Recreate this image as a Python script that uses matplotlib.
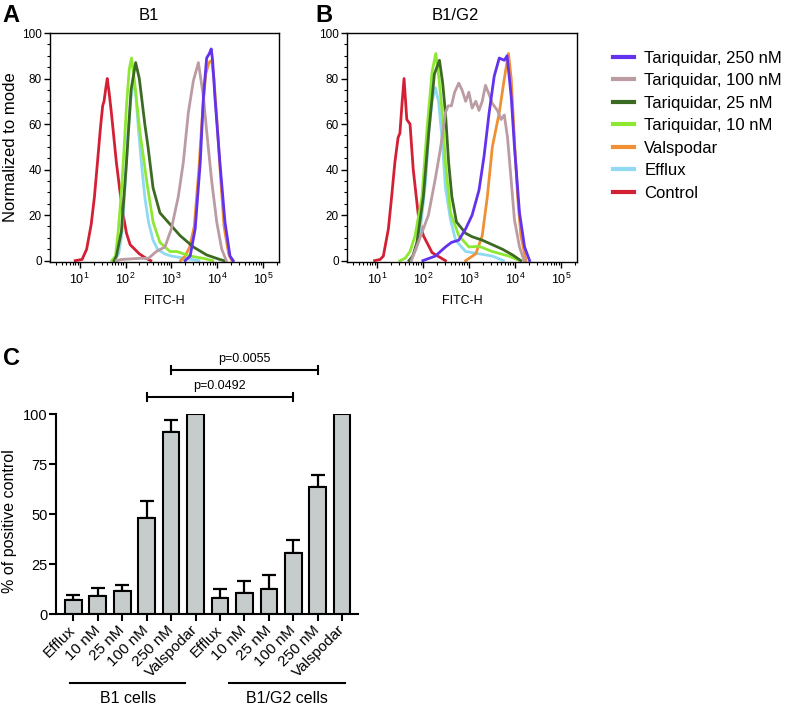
import numpy as np
import matplotlib
matplotlib.use("Agg")
import matplotlib.pyplot as plt
from matplotlib.lines import Line2D
from matplotlib.ticker import FixedLocator, MultipleLocator, LogLocator, NullFormatter

plt.rcParams["font.family"] = ["Liberation Sans", "DejaVu Sans"]
plt.rcParams["mathtext.fontset"] = "custom"
plt.rcParams["mathtext.rm"] = "Liberation Sans"
plt.rcParams["mathtext.it"] = "Liberation Sans:italic"

# ----------------------------------------------------------------------
# Flow histograms: log10(FITC-H) and % of mode
# ----------------------------------------------------------------------
# panel A : B1
A_CTRL_LX = [0.9, 1.05, 1.15, 1.25, 1.32, 1.39, 1.45, 1.5, 1.53, 1.57, 1.6, 1.64, 1.69, 1.75, 1.8, 1.88, 1.95, 2.02, 2.1, 2.2, 2.3, 2.45, 2.55]
A_CTRL_Y = [0, 0.5, 5, 16, 28, 44, 58, 68, 70, 76, 80, 74, 65, 53, 43, 30, 20, 12, 7, 5, 3, 1, 0]
A_EFF_LX = [1.75, 1.85, 1.92, 1.98, 2.05, 2.12, 2.18, 2.22, 2.28, 2.35, 2.42, 2.5, 2.6, 2.7, 2.85, 3.0, 3.3, 3.6]
A_EFF_Y = [0, 3, 12, 30, 55, 72, 79, 74, 58, 42, 28, 17, 9, 5, 3, 2, 1, 0]
A_T10_LX = [1.7, 1.78, 1.84, 1.9, 1.95, 2.02, 2.08, 2.13, 2.2, 2.31, 2.4, 2.46, 2.6, 2.75, 2.97, 3.12, 3.41, 3.7, 3.9]
A_T10_Y = [0, 2, 13, 28, 43, 68, 84, 89, 78, 57, 44, 35, 17, 8, 4, 4, 2, 1, 0]
A_T25_LX = [1.75, 1.8, 1.91, 2.02, 2.12, 2.22, 2.3, 2.42, 2.49, 2.6, 2.75, 2.97, 3.19, 3.48, 3.77, 4.06, 4.15]
A_T25_Y = [0, 2, 13, 43, 75, 87, 80, 60, 50, 32, 21, 16, 11, 6, 2.5, 0.5, 0]
A_T100_LX = [1.8, 1.9, 2.3, 2.5, 2.67, 2.86, 3.0, 3.15, 3.26, 3.37, 3.48, 3.59, 3.7, 3.77, 3.88, 3.99, 4.1, 4.2]
A_T100_Y = [0, 0.5, 1, 1, 4, 6, 14, 28, 43, 65, 79, 87, 72, 57, 35, 17, 5, 0]
A_T250_LX = [3.3, 3.41, 3.52, 3.63, 3.7, 3.77, 3.83, 3.87, 3.9, 3.95, 4.06, 4.17, 4.28, 4.35]
A_T250_Y = [0, 2, 14, 43, 72, 89, 91, 93, 88, 72, 43, 17, 2, 0]
A_VAL_LX = [3.2, 3.3, 3.4, 3.5, 3.6, 3.68, 3.75, 3.82, 3.88, 3.93, 4.0, 4.07, 4.15, 4.25, 4.32]
A_VAL_Y = [0, 2, 6, 15, 40, 65, 82, 87, 88, 80, 60, 38, 15, 3, 0]

# panel B : B1/G2
B_CTRL_LX = [0.95, 1.07, 1.14, 1.25, 1.32, 1.39, 1.46, 1.5, 1.55, 1.59, 1.65, 1.72, 1.79, 1.9, 2.01, 2.2, 2.49]
B_CTRL_Y = [0, 0.5, 2, 14, 28, 43, 54, 56, 70, 80, 62, 60, 40, 20, 11, 3.5, 0]
B_EFF_LX = [1.7, 1.75, 1.85, 1.94, 2.06, 2.13, 2.2, 2.27, 2.34, 2.42, 2.49, 2.6, 2.71, 2.93, 3.22, 3.51, 3.75]
B_EFF_Y = [0, 1, 5, 13, 35, 57, 70, 76, 70, 53, 32, 18, 9, 4, 3, 2, 0]
B_T10_LX = [1.5, 1.61, 1.72, 1.83, 1.98, 2.09, 2.2, 2.28, 2.35, 2.42, 2.49, 2.6, 2.78, 3.0, 3.22, 3.51, 3.87, 4.1]
B_T10_Y = [0, 1, 4, 11, 28, 58, 83, 91, 80, 65, 43, 21, 11, 6, 6.3, 4, 2, 0]
B_T25_LX = [1.7, 1.78, 1.87, 2.01, 2.13, 2.25, 2.36, 2.43, 2.49, 2.56, 2.63, 2.73, 2.93, 3.07, 3.29, 3.51, 3.73, 3.95, 4.13]
B_T25_Y = [0, 2, 8, 28, 57, 82, 88, 78, 65, 43, 28, 17, 12, 10.5, 9, 7, 5, 2.5, 0]
B_T100_LX = [1.75, 1.9, 2.12, 2.27, 2.38, 2.49, 2.55, 2.62, 2.69, 2.78, 2.85, 2.93, 3.0, 3.07, 3.15, 3.22, 3.29, 3.36, 3.44, 3.51, 3.62, 3.7, 3.77, 3.84, 3.92, 3.99, 4.1, 4.2]
B_T100_Y = [0, 8, 20, 36, 49, 65, 68, 68, 74, 78, 75, 70, 74, 67, 70, 66, 70, 77, 73, 69, 66, 62, 64, 54, 35, 18, 6, 0]
B_T250_LX = [2.0, 2.27, 2.49, 2.62, 2.78, 2.93, 3.07, 3.22, 3.33, 3.44, 3.55, 3.66, 3.77, 3.83, 3.92, 3.99, 4.1, 4.21, 4.32]
B_T250_Y = [0, 2, 6, 8, 9, 14, 20, 31, 46, 65, 81, 89, 88, 90, 72, 50, 21, 6, 0]
B_VAL_LX = [2.93, 3.15, 3.29, 3.4, 3.51, 3.66, 3.77, 3.86, 3.92, 3.99, 4.06, 4.13, 4.24]
B_VAL_Y = [0, 3, 11, 28, 50, 65, 80, 91, 80, 53, 28, 11, 0]

SERIES_NAMES = ["Control", "Efflux", "Valspodar", "Tariquidar, 10 nM",
                "Tariquidar, 25 nM", "Tariquidar, 100 nM", "Tariquidar, 250 nM"]
SERIES_COLORS = ["#d42035", "#8fd9f2", "#f09035", "#8ee833",
                 "#3d6a22", "#bb9ca3", "#6232ee"]
LEGEND_ORDER = ["Tariquidar, 250 nM", "Tariquidar, 100 nM", "Tariquidar, 25 nM",
                "Tariquidar, 10 nM", "Valspodar", "Efflux", "Control"]

A_CURVES = [(A_CTRL_LX, A_CTRL_Y), (A_EFF_LX, A_EFF_Y), (A_VAL_LX, A_VAL_Y),
            (A_T10_LX, A_T10_Y), (A_T25_LX, A_T25_Y), (A_T100_LX, A_T100_Y),
            (A_T250_LX, A_T250_Y)]
B_CURVES = [(B_CTRL_LX, B_CTRL_Y), (B_EFF_LX, B_EFF_Y), (B_VAL_LX, B_VAL_Y),
            (B_T10_LX, B_T10_Y), (B_T25_LX, B_T25_Y), (B_T100_LX, B_T100_Y),
            (B_T250_LX, B_T250_Y)]

# ----------------------------------------------------------------------
# panel C bars
# ----------------------------------------------------------------------
C_LABELS = ["Efflux", "10 nM", "25 nM", "100 nM", "250 nM", "Valspodar",
            "Efflux", "10 nM", "25 nM", "100 nM", "250 nM", "Valspodar"]
C_MEANS = [7.1, 9.1, 11.6, 48.0, 90.8, 100, 8.0, 10.5, 12.5, 30.5, 63.3, 100]
C_TOPS = [9.6, 13.0, 14.6, 56.6, 97.2, 100, 12.5, 16.3, 19.3, 37.2, 69.3, 100]
C_BRACKETS = [(4, 10, 122.0, "p=0.0055"), (3, 9, 108.5, "p=0.0492")]
C_GROUPS = [(-0.14, 4.58, "B1 cells"), (6.38, 11.1, "B1/G2 cells")]

W, H = 787, 707
fig = plt.figure(figsize=(W / 100, H / 100), dpi=100)


def frac_rect(left, top, right, bottom):
    return [left / W, 1 - bottom / H, (right - left) / W, (bottom - top) / H]


def flow_axes(rect, curves, show_ylabel):
    ax = fig.add_axes(rect)
    for (lx, y), name, col in zip(curves, SERIES_NAMES, SERIES_COLORS):
        ax.plot(10 ** np.array(lx), y, color=col, lw=2.0, label=name,
                solid_joinstyle="round")
    ax.set_xscale("log")
    ax.set_xlim(10 ** 0.35, 10 ** 5.35)
    ax.set_ylim(-0.6, 100)
    ax.xaxis.set_major_locator(FixedLocator([1e1, 1e2, 1e3, 1e4, 1e5]))
    ax.set_xticklabels([r"$10^{%d}$" % k for k in range(1, 6)])
    ax.xaxis.set_minor_locator(LogLocator(base=10, subs=np.arange(2, 10)))
    ax.xaxis.set_minor_formatter(NullFormatter())
    ax.yaxis.set_major_locator(MultipleLocator(20))
    ax.yaxis.set_minor_locator(MultipleLocator(5))
    ax.tick_params(which="major", direction="out", length=4, width=1,
                   labelsize=8.5, pad=2)
    ax.tick_params(which="minor", direction="out", length=2.5, width=0.8)
    ax.tick_params(axis="x", labelsize=9, pad=3)
    for s in ax.spines.values():
        s.set_linewidth(1.0)
    ax.set_xlabel("FITC-H", fontsize=9, labelpad=6)
    if show_ylabel:
        ax.set_ylabel("Normalized to mode", fontsize=12, labelpad=3)
    return ax


axA = flow_axes(frac_rect(50, 33, 279, 262), A_CURVES, True)
axB = flow_axes(frac_rect(347, 33, 577, 262), B_CURVES, False)

fig.text(149 / W, 1 - 15 / H, "B1", fontsize=12, ha="center", va="center")
fig.text(455 / W, 1 - 15 / H, "B1/G2", fontsize=12, ha="center", va="center")
fig.text(11 / W, 1 - 15 / H, "A", fontsize=17, fontweight="bold", ha="center", va="center")
fig.text(324 / W, 1 - 15 / H, "B", fontsize=17, fontweight="bold", ha="center", va="center")
fig.text(11 / W, 1 - 358 / H, "C", fontsize=17, fontweight="bold", ha="center", va="center")

handles = [Line2D([], [], color=SERIES_COLORS[SERIES_NAMES.index(n)], lw=3)
           for n in LEGEND_ORDER]
fig.legend(handles, LEGEND_ORDER, loc="upper left",
           bbox_to_anchor=(606 / W, 1 - 44 / H), frameon=False, fontsize=12,
           handlelength=1.25, handletextpad=0.65, labelspacing=0.45,
           borderpad=0.4, borderaxespad=0)

# ----------------------------------------------------------------------
# panel C
# ----------------------------------------------------------------------
axC = fig.add_axes(frac_rect(56, 414, 358, 614))
xpos = np.arange(len(C_MEANS))
means = np.array(C_MEANS)
errs = np.array(C_TOPS) - means
axC.bar(xpos, means, width=0.68, color="#c5cccb", edgecolor="black",
        linewidth=1.5, zorder=2)
has = errs > 0
axC.errorbar(xpos[has], means[has], yerr=[np.zeros(has.sum()), errs[has]],
             fmt="none", ecolor="black", elinewidth=1.6, capsize=4.7,
             capthick=1.6, zorder=1)
axC.set_xlim(-0.71, 11.65)
axC.set_ylim(0, 100)
axC.set_yticks([0, 25, 50, 75, 100])
axC.set_xticks(xpos)
axC.set_xticklabels(C_LABELS, rotation=45, ha="right", va="center",
                    rotation_mode="anchor", fontsize=11)
axC.tick_params(axis="both", direction="out", length=5, width=1.5,
                labelsize=10.5, pad=1)
axC.tick_params(axis="x", pad=5, labelsize=11)
for side in ["top", "right"]:
    axC.spines[side].set_visible(False)
for side in ["left", "bottom"]:
    axC.spines[side].set_linewidth(1.5)
fig.text(10 / W, 1 - 521 / H, "% of positive control", fontsize=11.5,
         rotation=90, ha="center", va="center")

for x0, x1, yb, txt in C_BRACKETS:
    axC.plot([x0, x1], [yb, yb], color="black", lw=1.5, clip_on=False)
    for xe in (x0, x1):
        axC.plot([xe, xe], [yb - 2.2, yb + 2.2], color="black", lw=1.5,
                 clip_on=False)
    axC.text((x0 + x1) / 2, yb + 2.5, txt, fontsize=9, ha="center",
             va="bottom")

for x0, x1, txt in C_GROUPS:
    axC.plot([x0, x1], [-34.4, -34.4], color="black", lw=1.5, clip_on=False)
    axC.text((x0 + x1) / 2, -38.5, txt, fontsize=11.5, ha="center", va="top")

fig.savefig("out.png", dpi=100)
